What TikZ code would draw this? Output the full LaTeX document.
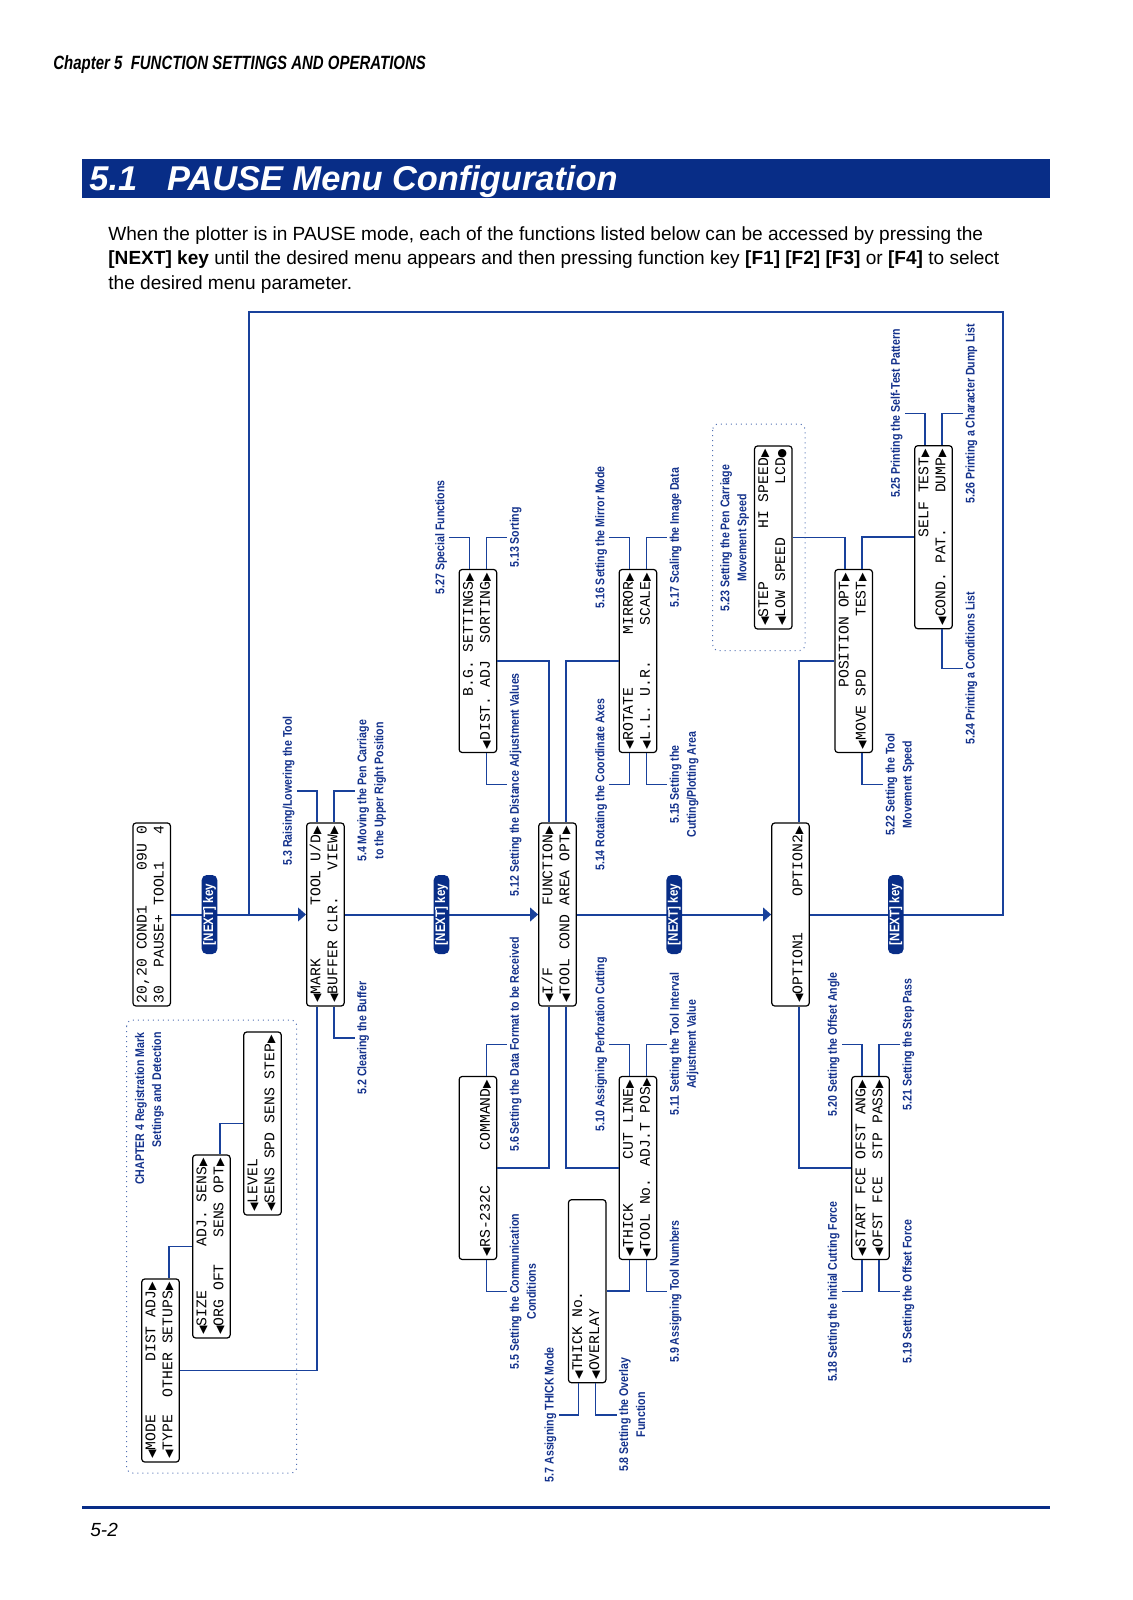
\documentclass[tikz,border=0pt]{standalone}
\usepackage{fontspec}
\setmainfont{Liberation Sans}
\newfontfamily\lcdfont{Liberation Mono}
\newfontfamily\labfont[FakeStretch=0.84]{Liberation Sans}
\newfontfamily\hdrfont[FakeStretch=0.78]{Liberation Sans}
\newfontfamily\symfont{DejaVu Sans}
\usetikzlibrary{calc,arrows.meta}
\definecolor{navy}{RGB}{8,45,135}
\definecolor{linecol}{RGB}{25,65,155}
\definecolor{labcol}{RGB}{20,50,140}
\newcommand\lar{\makebox[0.6em][c]{\symfont\fontsize{5.5pt}{5.5pt}\selectfont ◀}}
\newcommand\rar{\makebox[0.6em][c]{\symfont\fontsize{5.5pt}{5.5pt}\selectfont ▶}}
\newcommand\dotc{\makebox[0.6em][c]{\symfont\fontsize{5.5pt}{5.5pt}\selectfont ●}}
\newcommand\lcdl[1]{\makebox[88.5pt]{\strut #1}}
\begin{document}
\begin{tikzpicture}[x=0.5pt,y=-0.5pt,
  lcdbox/.style={draw=black, line width=0.6pt, rounded corners=1.5pt, rotate=90,
    minimum width=91.5pt, minimum height=18.75pt, inner sep=0pt, align=left,
    font=\lcdfont\fontsize{7.375pt}{8.5pt}\selectfont},
  lab/.style={rotate=90, text=labcol, inner sep=1pt, align=center,
    font=\labfont\bfseries\fontsize{6.3pt}{8.5pt}\selectfont},
  conn/.style={draw=linecol, line width=0.75pt},
  mainline/.style={draw=linecol, line width=1pt},
  arr/.style={mainline, -{Triangle[length=4pt,width=6.75pt]}},
  nextkey/.style={rotate=90, fill=navy, text=white, rounded corners=2.5pt,
    minimum width=39.5pt, minimum height=7.8pt, inner sep=0.5pt,
    font=\labfont\bfseries\fontsize{6.9pt}{7pt}\selectfont},
  dotbox/.style={draw=linecol!75, dotted, line width=0.5pt, rounded corners=3pt}
]
\useasboundingbox (0,0) rectangle (1132,1600);
\fill[white] (0,0) rectangle (1132,1600);

% header
\node[anchor=base west, inner sep=0pt, font=\hdrfont\bfseries\itshape\fontsize{9.6pt}{10pt}\selectfont] (hdr) at (53,69.3) {Chapter 5\ \ FUNCTION SETTINGS AND OPERATIONS};
\fill[navy] (82,159) rectangle (1050,198);
\node[anchor=base west, inner sep=0pt, text=white, font=\bfseries\itshape\fontsize{17.2pt}{18pt}\selectfont] (title) at (89,190) {5.1\hspace{15pt}PAUSE Menu Configuration};
\node[anchor=base west, inner sep=0pt, font=\fontsize{9.53pt}{12pt}\selectfont] (intro1) at (108,240) {When the plotter is in PAUSE mode, each of the functions listed below can be accessed by pressing the};
\node[anchor=base west, inner sep=0pt, font=\fontsize{9.53pt}{12pt}\selectfont] (intro2) at (108,264.7) {\textbf{[NEXT] key} until the desired menu appears and then pressing function key \textbf{[F1] [F2] [F3]} or \textbf{[F4]} to select};
\node[anchor=base west, inner sep=0pt, font=\fontsize{9.53pt}{12pt}\selectfont] (intro3) at (108,289.4) {the desired menu parameter.};

% dotted groups
\draw[dotbox] (126.7,1020) rectangle (296.7,1473);
\draw[dotbox] (712.7,424) rectangle (805,650.7);

% boxes
\node[lcdbox] (status) at (151.7,914.5) {\lcdl{20,20 COND1\hfill 09U 0}\\\lcdl{30\ \ PAUSE+ TOOL1\hfill 4}};
\node[lcdbox] (mark) at (325.4,914.5) {\lcdl{\lar MARK\hfill TOOL U/D\rar}\\\lcdl{\lar BUFFER CLR.\hfill VIEW\rar}};
\node[lcdbox] (if) at (557.5,914.5) {\lcdl{\lar I/F\hfill FUNCTION\rar}\\\lcdl{\lar TOOL COND AREA OPT\rar}};
\node[lcdbox] (opt) at (790.5,914.5) {\lcdl{}\\\lcdl{\lar OPTION1\hfill OPTION2\rar}};
\node[lcdbox] (bg) at (477.9,661) {\lcdl{\hfill B.G. SETTINGS\rar}\\\lcdl{\lar DIST. ADJ\hfill SORTING\rar}};
\node[lcdbox] (rot) at (637.9,661) {\lcdl{\lar ROTATE\hfill MIRROR\rar}\\\lcdl{\lar L.L. U.R.\hfill SCALE\rar}};
\node[lcdbox] (stepb) at (773.3,537.5) {\lcdl{\lar STEP\hfill HI SPEED\rar}\\\lcdl{\lar LOW SPEED\hfill LCD\dotc}};
\node[lcdbox] (pos) at (853.7,661) {\lcdl{\hfill POSITION OPT\rar}\\\lcdl{\lar MOVE SPD\hfill TEST\rar}};
\node[lcdbox] (self) at (933.5,537.2) {\lcdl{\hfill SELF TEST\rar}\\\lcdl{\lar COND. PAT.\hfill DUMP\rar}};
\node[lcdbox] (rs) at (477.9,1168) {\lcdl{}\\\lcdl{\lar RS-232C\hfill COMMAND\rar}};
\node[lcdbox] (thick) at (637.9,1168) {\lcdl{\lar THICK\hfill CUT LINE\rar}\\\lcdl{\lar TOOL No. ADJ.T POS\rar}};
\node[lcdbox] (tno) at (587.2,1291.2) {\lcdl{\lar THICK No.\hfill}\\\lcdl{\lar OVERLAY\hfill}};
\node[lcdbox] (start) at (870.5,1168) {\lcdl{\lar START FCE OFST ANG\rar}\\\lcdl{\lar OFST FCE\ \ STP PASS\rar}};
\node[lcdbox] (mode) at (160.5,1370.5) {\lcdl{\lar MODE\hfill DIST ADJ\rar}\\\lcdl{\lar TYPE\ \ OTHER SETUPS\rar}};
\node[lcdbox] (size) at (211.4,1246.5) {\lcdl{\lar SIZE\hfill ADJ. SENS\rar}\\\lcdl{\lar ORG OFT\hfill SENS OPT\rar}};
\node[lcdbox] (level) at (262.5,1123.5) {\lcdl{\lar LEVEL\hfill}\\\lcdl{\lar SENS SPD SENS STEP\rar}};

% main flow
\draw[mainline] (opt.south) -- (1003,914.5) -- (1003,311.7) -- (249,311.7) -- (249,914.5);
\draw[arr] (status.south) -- (mark.north);
\draw[arr] (mark.south) -- (if.north);
\draw[arr] (if.south) -- (opt.north);
\node[nextkey] (k1) at (209.5,914.5) {[NEXT] key};
\node[nextkey] (k2) at (441.5,914.5) {[NEXT] key};
\node[nextkey] (k3) at (674.2,914.5) {[NEXT] key};
\node[nextkey] (k4) at (895.8,914.5) {[NEXT] key};

% tree connectors
\draw[conn] (mode.south) -| ($(mark.west)+(-8.5,0)$);
\draw[conn] (size.north) -| ($(mode.east)+(8.5,0)$);
\draw[conn] (level.north) -| ($(size.east)+(8.5,0)$);
\draw[conn] (bg.south) -| ($(if.east)+(-8.5,0)$);
\draw[conn] (rot.north) -| ($(if.east)+(8.5,0)$);
\draw[conn] (rs.south) -| ($(if.west)+(-8.5,0)$);
\draw[conn] (thick.north) -| ($(if.west)+(8.5,0)$);
\draw[conn] (tno.south) -| ($(thick.west)+(-8.5,0)$);
\draw[conn] (pos.north) -| ($(opt.east)+(8.5,0)$);
\draw[conn] (start.north) -| ($(opt.west)+(8.5,0)$);
\draw[conn] (stepb.south) -| ($(pos.east)+(-8.5,0)$);
\draw[conn] (self.north) -| ($(pos.east)+(8.5,0)$);

% group labels
\node[lab, align=right, anchor=east] (ch4) at (149.5,1030) {CHAPTER 4 Registration Mark\\Settings and Detection};
\node[lab] (l523) at (734.7,538) {5.23 Setting the Pen Carriage\\Movement Speed};

% labels: top line1 (left)
\node[lab, anchor=south] (l53) at ($(mark.east)+(-28.5,-31.5)$) {5.3 Raising/Lowering the Tool};
\draw[conn] ($(mark.east)+(-8.5,0)$) |- (l53.south);
\node[lab, anchor=south] (l527) at ($(bg.east)+(-28.5,-31.5)$) {5.27 Special Functions};
\draw[conn] ($(bg.east)+(-8.5,0)$) |- (l527.south);
\node[lab, anchor=south] (l516) at ($(rot.east)+(-28.5,-31.5)$) {5.16 Setting the Mirror Mode};
\draw[conn] ($(rot.east)+(-8.5,0)$) |- (l516.south);
\node[lab, anchor=south] (l510) at ($(thick.east)+(-28.5,-31.5)$) {5.10 Assigning Perforation Cutting};
\draw[conn] ($(thick.east)+(-8.5,0)$) |- (l510.south);
\node[lab, anchor=south] (l520) at ($(start.east)+(-28.5,-31.5)$) {5.20 Setting the Offset Angle};
\draw[conn] ($(start.east)+(-8.5,0)$) |- (l520.south);
\node[lab, anchor=south] (l525) at ($(self.east)+(-28.5,-31.5)$) {5.25 Printing the Self-Test Pattern};
\draw[conn] ($(self.east)+(-8.5,0)$) |- (l525.south);

% labels: top line2 (right)
\node[lab, anchor=north] (l54) at ($(mark.east)+(29.5,-31.5)$) {5.4 Moving the Pen Carriage\\to the Upper Right Position};
\draw[conn] ($(mark.east)+(8.5,0)$) |- (l54.north);
\node[lab, anchor=north] (l513) at ($(bg.east)+(29.5,-31.5)$) {5.13 Sorting};
\draw[conn] ($(bg.east)+(8.5,0)$) |- (l513.north);
\node[lab, anchor=north] (l517) at ($(rot.east)+(29.5,-31.5)$) {5.17 Scaling the Image Data};
\draw[conn] ($(rot.east)+(8.5,0)$) |- (l517.north);
\node[lab, anchor=north] (l511) at ($(thick.east)+(29.5,-31.5)$) {5.11 Setting the Tool Interval\\Adjustment Value};
\draw[conn] ($(thick.east)+(8.5,0)$) |- (l511.north);
\node[lab, anchor=north] (l521) at ($(start.east)+(29.5,-31.5)$) {5.21 Setting the Step Pass};
\draw[conn] ($(start.east)+(8.5,0)$) |- (l521.north);
\node[lab, anchor=north] (l526) at ($(self.east)+(29.5,-31.5)$) {5.26 Printing a Character Dump List};
\draw[conn] ($(self.east)+(8.5,0)$) |- (l526.north);
\node[lab, anchor=north] (l56) at ($(rs.east)+(29.5,-31.5)$) {5.6 Setting the Data Format to be Received};
\draw[conn] ($(rs.east)+(8.5,0)$) |- (l56.north);

% labels: bottom line1 (left)
\node[lab, anchor=south] (l514) at ($(rot.west)+(-28.5,31.5)$) {5.14 Rotating the Coordinate Axes};
\draw[conn] ($(rot.west)+(-8.5,0)$) |- (l514.south);
\node[lab, anchor=south] (l518) at ($(start.west)+(-28.5,31.5)$) {5.18 Setting the Initial Cutting Force};
\draw[conn] ($(start.west)+(-8.5,0)$) |- (l518.south);
\node[lab, anchor=south] (l57) at ($(tno.west)+(-28.5,31.5)$) {5.7 Assigning THICK Mode};
\draw[conn] ($(tno.west)+(-8.5,0)$) |- (l57.south);

% labels: bottom line2 (right)
\node[lab, anchor=north] (l52) at ($(mark.west)+(29.5,31.5)$) {5.2 Clearing the Buffer};
\draw[conn] ($(mark.west)+(8.5,0)$) |- (l52.north);
\node[lab, anchor=north] (l512) at ($(bg.west)+(29.5,31.5)$) {5.12 Setting the Distance Adjustment Values};
\draw[conn] ($(bg.west)+(8.5,0)$) |- (l512.north);
\node[lab, anchor=north] (l515) at ($(rot.west)+(29.5,31.5)$) {5.15 Setting the\\Cutting/Plotting Area};
\draw[conn] ($(rot.west)+(8.5,0)$) |- (l515.north);
\node[lab, anchor=north] (l59) at ($(thick.west)+(29.5,31.5)$) {5.9 Assigning Tool Numbers};
\draw[conn] ($(thick.west)+(8.5,0)$) |- (l59.north);
\node[lab, anchor=north] (l519) at ($(start.west)+(29.5,31.5)$) {5.19 Setting the Offset Force};
\draw[conn] ($(start.west)+(8.5,0)$) |- (l519.north);
\node[lab, anchor=north] (l522) at ($(pos.west)+(29.5,31.5)$) {5.22 Setting the Tool\\Movement Speed};
\draw[conn] ($(pos.west)+(8.5,0)$) |- (l522.north);
\node[lab, anchor=north] (l524) at ($(self.west)+(29.5,39)$) {5.24 Printing a Conditions List};
\draw[conn] ($(self.west)+(8.5,0)$) |- (l524.north);
\node[lab, anchor=north] (l55) at ($(rs.west)+(29.5,31.5)$) {5.5 Setting the Communication\\Conditions};
\draw[conn] ($(rs.west)+(8.5,0)$) |- (l55.north);
\node[lab, anchor=north] (l58) at ($(tno.west)+(29.5,31.5)$) {5.8 Setting the Overlay\\Function};
\draw[conn] ($(tno.west)+(8.5,0)$) |- (l58.north);

% footer
\draw[navy, line width=1.5pt] (82,1507.6) -- (1050,1507.6);
\node[anchor=base west, inner sep=0pt, font=\itshape\fontsize{9.5pt}{11pt}\selectfont] (pg) at (90,1536) {5-2};
\end{tikzpicture}
\end{document}
